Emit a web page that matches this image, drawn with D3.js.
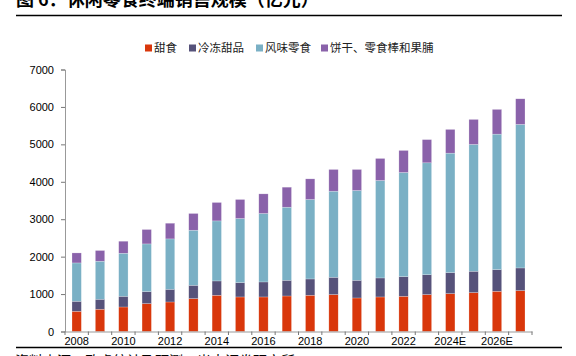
<!DOCTYPE html>
<html>
<head>
<meta charset="utf-8">
<script src="https://cdn.jsdelivr.net/npm/d3@7"></script>
<style>
  html, body { margin: 0; padding: 0; background: #fff; }
  svg { display: block; }
</style>
</head>
<body>
<svg id="chart" width="576" height="356"></svg>
<script>
const years = ["2008","2009","2010","2011","2012","2013","2014","2015","2016","2017",
               "2018","2019","2020","2021","2022","2023","2024E","2025E","2026E","2027E"];
const seriesNames = ["甜食","冷冻甜品","风味零食","饼干、零食棒和果脯"];
const sweets   = [540, 595, 655, 746, 789, 880, 968, 923, 923, 949, 968, 987, 896, 923, 941, 987, 1013, 1040, 1075, 1094];
const frozen   = [268, 267, 286, 321, 339, 355, 383, 384, 401, 420, 436, 462, 473, 508, 527, 530, 562, 570, 580, 604];
const savory   = [1024, 1016, 1150, 1273, 1346, 1471, 1604, 1712, 1829, 1952, 2123, 2300, 2399, 2604, 2781, 2990, 3190, 3388, 3618, 3835];
const biscuits = [267, 286, 321, 385, 419, 447, 492, 508, 524, 535, 551, 580, 561, 588, 588, 620, 634, 668, 661, 684];
const yTicks = [0, 1000, 2000, 3000, 4000, 5000, 6000, 7000];
const titleText = "图 6：休闲零食终端销售规模（亿元）";
const sourceText = "资料来源：欧睿统计及预测，光大证券研究所";

const colors = ["#d9370b", "#56527a", "#7ab0c5", "#8a62aa"];
const seriesData = [sweets, frozen, savory, biscuits];

const svg = d3.select("#chart");
const cjk = "'Noto Sans CJK SC', 'Noto Sans', sans-serif";
const latin = "'Liberation Sans', Arial, sans-serif";

// Title (partially clipped at top, as in the reference) and rules
svg.append("text").attr("x", 16).attr("y", 6)
  .attr("font-family", cjk).attr("font-weight", "bold").attr("font-size", 18)
  .attr("fill", "#000").text(titleText);
svg.append("line").attr("x1", 16).attr("x2", 562).attr("y1", 15.5).attr("y2", 15.5)
  .attr("stroke", "#000").attr("stroke-width", 1.3);
svg.append("line").attr("x1", 16).attr("x2", 562).attr("y1", 347.5).attr("y2", 347.5)
  .attr("stroke", "#000").attr("stroke-width", 1.3);
svg.append("text").attr("x", 15).attr("y", 366)
  .attr("font-family", cjk).attr("font-size", 14)
  .attr("fill", "#000").text(sourceText);

// Scales
const x = d3.scaleBand().domain(years).range([65, 532]).paddingInner(0.6).paddingOuter(0.3);
const y = d3.scaleLinear().domain([0, 7000]).range([331.5, 69.5]);

// Stack
const table = years.map((yr, i) => {
  const o = { year: yr };
  seriesNames.forEach((s, k) => { o[s] = seriesData[k][i]; });
  return o;
});
const stacked = d3.stack().keys(seriesNames)(table);

svg.append("g").selectAll("g").data(stacked).join("g")
  .attr("fill", (d, i) => colors[i])
  .selectAll("rect").data(d => d).join("rect")
  .attr("x", d => x(d.data.year))
  .attr("width", x.bandwidth())
  .attr("y", d => y(d[1]))
  .attr("height", d => y(d[0]) - y(d[1]))
  .attr("stroke", "rgba(255,255,255,0.45)")
  .attr("stroke-width", 0.5);

// Y axis
const yAxis = d3.axisLeft(y).tickValues(yTicks).tickSize(4).tickPadding(7).tickFormat(d3.format("d"));
const gy = svg.append("g").attr("transform", "translate(65,0)").call(yAxis);
gy.select(".domain").attr("stroke", "#999");
gy.selectAll(".tick line").attr("stroke", "#777");
gy.selectAll("text").attr("font-family", latin).attr("font-size", 11).attr("fill", "#000");

// X axis
const xAxis = d3.axisBottom(x).tickSize(0).tickPadding(6)
  .tickFormat((d, i) => i % 2 === 0 ? d : "");
const gx = svg.append("g").attr("transform", "translate(0,331.5)").call(xAxis);
gx.select(".domain").attr("stroke", "#999");
gx.selectAll("text").attr("font-family", latin).attr("font-size", 11).attr("fill", "#000");
// ticks between bands
const step = x.step();
const bounds = years.map(yr => x(yr) + x.bandwidth() / 2 - step / 2).concat([532]);
gx.selectAll(".sep").data(bounds).join("line").attr("class", "sep")
  .attr("x1", d => d).attr("x2", d => d).attr("y1", 0).attr("y2", 3.5)
  .attr("stroke", "#777");

// Legend
const legendX = [145, 189, 256, 321];
const lg = svg.append("g").selectAll("g").data(seriesNames).join("g")
  .attr("transform", (d, i) => `translate(${legendX[i]},48)`);
lg.append("rect").attr("x", 0).attr("y", -3.5).attr("width", 7).attr("height", 7)
  .attr("fill", (d, i) => colors[i]);
lg.append("text").attr("x", 9).attr("y", 0).attr("dy", "0.35em")
  .attr("font-family", cjk).attr("font-size", 11.5).attr("fill", "#222")
  .text(d => d);
</script>
</body>
</html>
